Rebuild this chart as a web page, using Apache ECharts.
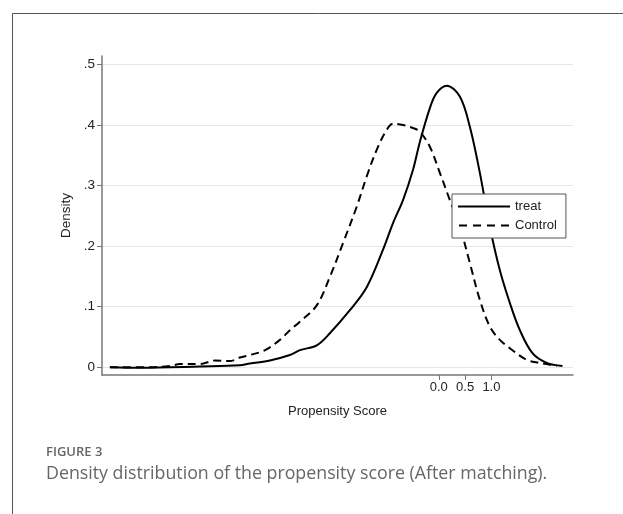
<!DOCTYPE html>
<html><head><meta charset="utf-8">
<script src="https://cdn.jsdelivr.net/npm/echarts@6/dist/echarts.min.js"></script>
<style>html,body{margin:0;padding:0;background:#fff}#c{width:623px;height:514px}</style>
</head><body><div id="c"></div>
<script>
const treatX = [-6.25,-5.68,-4.54,-3.78,-3.59,-3.21,-2.83,-2.64,-2.32,-2.07,-1.69,-1.37,-1.06,-0.87,-0.68,-0.49,-0.36,-0.17,-0.04,0.15,0.40,0.59,0.78,0.97,1.16,1.35,1.54,1.78,2.05,2.35];
const treatY = [0.000,-0.001,0.001,0.003,0.006,0.011,0.020,0.028,0.036,0.056,0.094,0.132,0.194,0.238,0.276,0.326,0.372,0.428,0.453,0.465,0.447,0.397,0.321,0.232,0.160,0.106,0.061,0.023,0.007,0.002];
const controlX = [-6.25,-5.49,-5.11,-4.92,-4.54,-4.25,-3.97,-3.78,-3.59,-3.30,-3.02,-2.83,-2.64,-2.32,-2.07,-1.82,-1.56,-1.37,-1.18,-0.99,-0.87,-0.68,-0.49,-0.36,-0.17,0.02,0.21,0.40,0.59,0.78,0.97,1.16,1.40,1.67,1.92,2.24];
const controlY = [0.000,0.000,0.002,0.005,0.005,0.011,0.010,0.016,0.020,0.028,0.045,0.061,0.075,0.102,0.149,0.205,0.265,0.315,0.359,0.392,0.402,0.400,0.395,0.389,0.364,0.321,0.276,0.232,0.172,0.111,0.067,0.045,0.028,0.012,0.007,0.002];
const xTicks = [0, 0.5, 1];
const yTicks = [0, 0.1, 0.2, 0.3, 0.4, 0.5];
const seriesNames = ['treat', 'Control'];

const chart = echarts.init(document.getElementById('c'));
const zip = (xs, ys) => xs.map((x, i) => [x, ys[i]]);
const font = 'Liberation Sans, Arial, sans-serif';
const solidIcon = 'path://M0,0H52V2H0Z';
const dashIcon = 'path://M0,0H8V2H0Z M14,0H22V2H14Z M28,0H36V2H28Z M42,0H50V2H42Z';
chart.setOption({
  animation: false,
  backgroundColor: '#fff',
  grid: { left: 102, right: 50, top: 56, bottom: 139 },
  xAxis: {
    type: 'value', min: -6.4, max: 2.55,
    name: 'Propensity Score', nameLocation: 'middle', nameGap: 30,
    nameTextStyle: { color: '#222', fontSize: 13, fontFamily: font },
    axisLine: { show: true, onZero: false, lineStyle: { color: '#777', width: 1.5 } },
    axisTick: { show: true, length: 5, customValues: xTicks, lineStyle: { color: '#777' } },
    axisLabel: { customValues: xTicks, color: '#222', fontSize: 13, fontFamily: font, margin: 6,
      formatter: v => v.toFixed(1) },
    splitLine: { show: false }
  },
  yAxis: {
    type: 'value', min: -0.013, max: 0.514,
    name: 'Density', nameLocation: 'middle', nameGap: 27,
    nameTextStyle: { color: '#222', fontSize: 13.5, fontFamily: font },
    axisLine: { show: true, onZero: false, lineStyle: { color: '#777', width: 1.5 } },
    axisTick: { show: true, length: 5, customValues: yTicks, lineStyle: { color: '#777' } },
    axisLabel: { customValues: yTicks, color: '#222', fontSize: 13.5, fontFamily: font, margin: 7,
      formatter: v => v === 0 ? '0' : '.' + Math.round(v * 10) },
    splitLine: { show: true, lineStyle: { color: '#e6e6e6', width: 1 } }
  },
  legend: {
    orient: 'vertical', left: 452, top: 194,
    padding: [6, 9, 6, 6], itemGap: 6, itemWidth: 52, itemHeight: 2,
    borderColor: '#555', borderWidth: 1, backgroundColor: '#fff',
    textStyle: { color: '#222', fontSize: 13, fontFamily: font },
    data: [{ name: seriesNames[0], icon: solidIcon }, { name: seriesNames[1], icon: dashIcon }]
  },
  series: [
    { name: seriesNames[0], type: 'line', data: zip(treatX, treatY), smooth: 0.35, symbol: 'none',
      lineStyle: { color: '#000', width: 2, type: 'solid' }, itemStyle: { color: '#000' } },
    { name: seriesNames[1], type: 'line', data: zip(controlX, controlY), smooth: 0.35, symbol: 'none',
      lineStyle: { color: '#000', width: 2, type: [8, 5] }, itemStyle: { color: '#000' } }
  ],
  graphic: [
    { type: 'rect', left: 10, top: 11, shape: { width: 700, height: 600 }, silent: true,
      style: { fill: 'none', stroke: '#555', lineWidth: 1 } },
    { type: 'text', left: 46, top: 446, style: { text: 'FIGURE 3', fill: '#666', fontSize: 13, fontWeight: 600, fontFamily: 'Open Sans, Noto Sans, sans-serif' } },
    { type: 'text', left: 46, top: 465, style: { text: 'Density distribution of the propensity score (After matching).', fill: '#666', fontSize: 17.8, fontFamily: 'Open Sans, Noto Sans, sans-serif' } }
  ]
});
</script></body></html>
